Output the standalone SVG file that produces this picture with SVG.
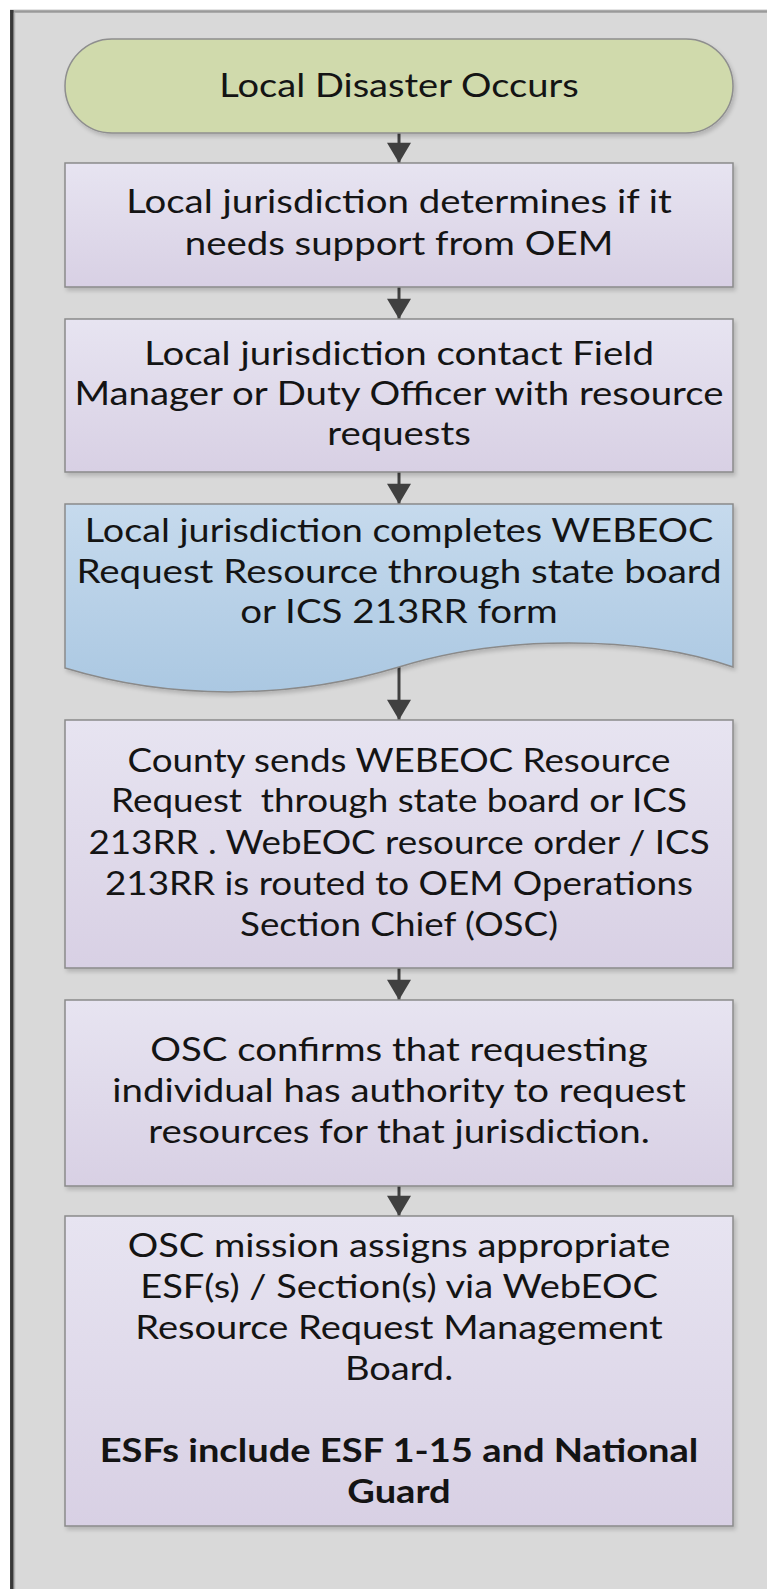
<svg xmlns="http://www.w3.org/2000/svg" width="767" height="1589" viewBox="0 0 767 1589">
<style>
.t{font-family:Lato,"Open Sans","Liberation Sans",sans-serif;font-size:32px;fill:#141414;text-anchor:middle;white-space:pre}
.b{font-weight:bold}
.box{fill:url(#gBox);stroke:#8a8a8a;stroke-width:1.5;filter:url(#sh)}
.doc{fill:url(#gDoc);stroke:#8a8a8a;stroke-width:1.5;filter:url(#sh)}
.term{fill:#d0daac;stroke:#8e8e8e;stroke-width:1.5;filter:url(#sh)}
.c{stroke:#404040;stroke-width:3;fill:none;marker-end:url(#ah)}
</style>
<defs>
<linearGradient id="gBox" x1="0" y1="0" x2="0" y2="1">
<stop offset="0" stop-color="#e7e4f1"/><stop offset="1" stop-color="#d8d0e4"/>
</linearGradient>
<linearGradient id="gDoc" x1="0" y1="0" x2="0" y2="1">
<stop offset="0" stop-color="#c6daed"/><stop offset="1" stop-color="#abc8e2"/>
</linearGradient>
<filter id="sh" x="-5%" y="-5%" width="110%" height="115%">
<feGaussianBlur in="SourceAlpha" stdDeviation="2"/>
<feOffset dx="2" dy="3" result="o"/>
<feComponentTransfer><feFuncA type="linear" slope="0.18"/></feComponentTransfer>
<feMerge><feMergeNode/><feMergeNode in="SourceGraphic"/></feMerge>
</filter>
<marker id="ah" markerUnits="userSpaceOnUse" markerWidth="28" markerHeight="24" refX="22" refY="13" orient="auto" viewBox="0 0 24 26">
<path d="M0,0 L22,13 L0,26 Z" fill="#404040"/>
</marker>
</defs>
<rect x="0" y="0" width="767" height="1589" fill="#ffffff"/>
<rect x="10" y="10" width="757" height="1579" fill="#d9d9d9"/>
<line x1="10" y1="9.5" x2="767" y2="9.5" stroke="#e4e4e4" stroke-width="1"/>
<line x1="10" y1="11.5" x2="767" y2="11.5" stroke="#9a9a9a" stroke-width="2.5"/>
<line x1="14.5" y1="13" x2="14.5" y2="1589" stroke="#b2b2b2" stroke-width="1.5"/>
<line x1="11.8" y1="10" x2="11.8" y2="1589" stroke="#383838" stroke-width="3.5"/>

<g id="connectors">
<line class="c" x1="399" y1="133" x2="399" y2="163"/>
<line class="c" x1="399" y1="287" x2="399" y2="319"/>
<line class="c" x1="399" y1="472" x2="399" y2="504"/>
<line class="c" x1="399" y1="667" x2="399" y2="720"/>
<line class="c" x1="399" y1="968" x2="399" y2="1000"/>
<line class="c" x1="399" y1="1186" x2="399" y2="1216"/>
</g>

<g id="n1">
<rect class="term" x="65" y="39" width="668" height="94" rx="47" ry="47"/>
<g transform="translate(399,0) scale(1.19,1)">
<text class="t" x="0" y="97">Local Disaster Occurs</text>
</g>
</g>
<g id="n2">
<rect class="box" x="65" y="163" width="668" height="124"/>
<g transform="translate(399,0) scale(1.2,1)">
<text class="t" x="0" y="213.5">Local jurisdiction determines if it</text>
<text class="t" x="0" y="255">needs support from OEM</text>
</g>
</g>
<g id="n3">
<rect class="box" x="65" y="319" width="668" height="153"/>
<g transform="translate(399,0) scale(1.2,1)">
<text class="t" x="0" y="365.5">Local jurisdiction contact Field</text>
<text class="t" x="0" y="405.5">Manager or Duty Officer with resource</text>
<text class="t" x="0" y="445.5">requests</text>
</g>
</g>
<g id="n4">
<path class="doc" d="M65,504 L733,504 L733,667 C640,635 500,635 399,667 C290,700 170,700 65,668 Z"/>
<g transform="translate(399,0) scale(1.18,1)">
<text class="t" x="0" y="542.5">Local jurisdiction completes WEBEOC</text>
<text class="t" x="0" y="583" transform="translate(0,0) scale(1.02,1)">Request Resource through state board</text>
<text class="t" x="0" y="623.5" transform="scale(1.02,1)">or ICS 213RR form</text>
</g>
</g>
<g id="n5">
<rect class="box" x="65" y="720" width="668" height="248"/>
<g transform="translate(399,0) scale(1.15,1)">
<text class="t" x="0" y="772">County sends WEBEOC Resource</text>
<text class="t" x="0" y="812.5">Request  through state board or ICS</text>
<text class="t" x="0" y="854">213RR . WebEOC resource order / ICS</text>
<text class="t" x="0" y="895">213RR is routed to OEM Operations</text>
<text class="t" x="0" y="936">Section Chief (OSC)</text>
</g>
</g>
<g id="n6">
<rect class="box" x="65" y="1000" width="668" height="186"/>
<g transform="translate(399,0) scale(1.2,1)">
<text class="t" x="0" y="1061">OSC confirms that requesting</text>
<text class="t" x="0" y="1102">individual has authority to request</text>
<text class="t" x="0" y="1143">resources for that jurisdiction.</text>
</g>
</g>
<g id="n7">
<rect class="box" x="65" y="1216" width="668" height="310"/>
<g transform="translate(399,0) scale(1.19,1)">
<text class="t" x="0" y="1257">OSC mission assigns appropriate</text>
<text class="t" x="0" y="1298">ESF(s) / Section(s) via WebEOC</text>
<text class="t" x="0" y="1339.5">Resource Request Management</text>
<text class="t" x="0" y="1380.5">Board.</text>
<text class="t b" x="0" y="1462.5">ESFs include ESF 1-15 and National</text>
<text class="t b" x="0" y="1503.5">Guard</text>
</g>
</g>
</svg>
